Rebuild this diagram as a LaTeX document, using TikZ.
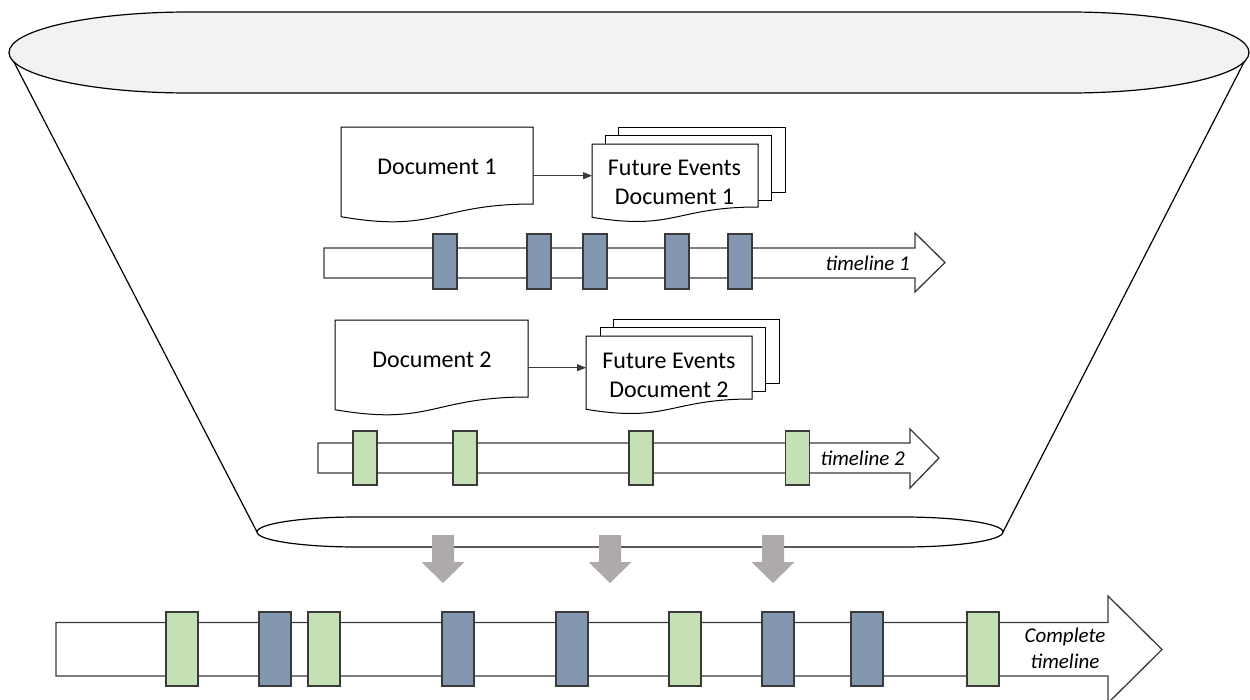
\documentclass[tikz,border=0pt]{standalone}
\usepackage{fontspec}
\setmainfont{Carlito}
\usetikzlibrary{arrows.meta,calc}
\definecolor{evblue}{HTML}{8497B0}
\definecolor{evgreen}{HTML}{C5E0B4}
\definecolor{edgegray}{HTML}{3A3A3A}
\definecolor{lidgray}{HTML}{F2F2F2}
\definecolor{dropgray}{HTML}{AEAAAA}

\begin{document}
\begin{tikzpicture}[x=1pt,y=-1pt,
  outline/.style={draw=black,line width=1.2pt},
  sheet/.style={draw=black,line width=1pt,fill=white},
  docbox/.style={draw=none,inner sep=0pt,anchor=north west},
  doctext/.style={font=\fontsize{24}{29}\selectfont,align=center,inner sep=0pt},
  lanetext/.style={font=\fontsize{21}{26}\selectfont\itshape,align=center,inner sep=0pt},
  lane/.style={draw=edgegray,line width=1.3pt,fill=white},
  evbox/.style={draw=edgegray,line width=1.3pt,inner sep=0pt,minimum width=24pt,minimum height=55pt},
  bigbox/.style={evbox,minimum width=32pt,minimum height=74pt},
  conn/.style={draw=edgegray,line width=0.9pt,-{Triangle[length=9pt,width=7pt]}},
  drop/.style={fill=dropgray,draw=none}]
\useasboundingbox (0,0) rectangle (1250,699);
\clip (0,0) rectangle (1250,699);

% funnel sides
\coordinate (topL) at (9,52.5);
\coordinate (topR) at (1249,52.5);
\coordinate (botL) at (257,532);
\coordinate (botR) at (1003,532);
\draw[outline] (topL) -- (botL);
\draw[outline] (topR) -- (botR);

% funnel outlet
\draw[outline,fill=white] (357,517) -- (903,517)
  .. controls (958.2,517) and (1003,523.7) .. (1003,532)
  .. controls (1003,540.3) and (958.2,547) .. (903,547) -- (357,547)
  .. controls (301.8,547) and (257,540.3) .. (257,532)
  .. controls (257,523.7) and (301.8,517) .. cycle;

% funnel mouth
\draw[outline,fill=lidgray] (189,12) -- (1069,12)
  .. controls (1168.4,12) and (1249,30.1) .. (1249,52.5)
  .. controls (1249,74.9) and (1168.4,93) .. (1069,93) -- (189,93)
  .. controls (89.6,93) and (9,74.9) .. (9,52.5)
  .. controls (9,30.1) and (89.6,12) .. cycle;

% ---------- document 1 ----------
\draw[sheet] (341,127) -- (533,127) -- (533,204)
  .. controls (437,204) and (437,233.3) .. (341,216.7) -- cycle;
\node[docbox,minimum width=192pt,minimum height=77pt] (doc1) at (341,127) {};
\node[doctext] (doc1txt) at (437,167) {Document 1};

% stacked future events 1
\draw[sheet] (618,127) rectangle (785,192);
\draw[sheet] (605,135.5) rectangle (771,200);
\draw[sheet] (592,144) -- (758,144) -- (758,207)
  .. controls (675,207) and (675,230.9) .. (592,217.3) -- cycle;
\node[docbox,minimum width=166pt,minimum height=63pt] (fe1) at (592,144) {};
\node[doctext] (fe1txt) at (674.5,182) {Future Events\\Document 1};

\draw[conn] (doc1.east |- fe1.west) -- (fe1.west);

% timeline 1
\draw[lane] (324,248) -- (915,248) -- (915,233) -- (945,262.5) -- (915,292)
  -- (915,278) -- (324,278) -- cycle;
\foreach \n/\cx in {a/445,b/539,c/595,d/677,e/740}
  \node[evbox,fill=evblue] (t1\n) at (\cx,261.5) {};
\node[lanetext,anchor=east] (t1lbl) at (910,263) {timeline 1};

% ---------- document 2 ----------
\draw[sheet] (335,320) -- (528,320) -- (528,397)
  .. controls (431.5,397) and (431.5,426.3) .. (335,409.7) -- cycle;
\node[docbox,minimum width=193pt,minimum height=77pt] (doc2) at (335,320) {};
\node[doctext] (doc2txt) at (432,360) {Document 2};

% stacked future events 2
\draw[sheet] (613,319) rectangle (779,383);
\draw[sheet] (600,327.5) rectangle (765.5,391);
\draw[sheet] (586,336) -- (752,336) -- (752,399)
  .. controls (669,399) and (669,422.9) .. (586,409.3) -- cycle;
\node[docbox,minimum width=166pt,minimum height=63pt] (fe2) at (586,336) {};
\node[doctext] (fe2txt) at (669,375) {Future Events\\Document 2};

\draw[conn] (doc2.east |- fe2.west) -- (fe2.west);

% timeline 2
\draw[lane] (318,443) -- (910,443) -- (910,429) -- (939,458) -- (910,488)
  -- (910,473) -- (318,473) -- cycle;
\foreach \n/\cx in {a/365,b/465,c/641,d/797.5}
  \node[evbox,minimum height=54pt,fill=evgreen] (t2\n) at (\cx,458) {};
\node[lanetext,anchor=east] (t2lbl) at (905,458) {timeline 2};

% merge arrows
\foreach \cx in {443,610,773}
  \fill[drop] ({\cx-11},535) -- ({\cx+11},535) -- ({\cx+11},562) -- ({\cx+21.5},562)
    -- (\cx,583) -- ({\cx-21.5},562) -- ({\cx-11},562) -- cycle;

% complete timeline
\draw[lane] (56,622.5) -- (1108,622.5) -- (1108,596) -- (1162,649.5) -- (1108,703)
  -- (1108,676) -- (56,676) -- cycle;
\foreach \n/\cx/\col in {a/182/evgreen,b/275/evblue,c/324/evgreen,d/458/evblue,
    e/572/evblue,f/685/evgreen,g/778/evblue,h/867/evblue,i/983/evgreen}
  \node[bigbox,fill=\col] (tc\n) at (\cx,649) {};
\node[lanetext] (tclbl) at (1065,648) {Complete\\timeline};
\end{tikzpicture}
\end{document}
